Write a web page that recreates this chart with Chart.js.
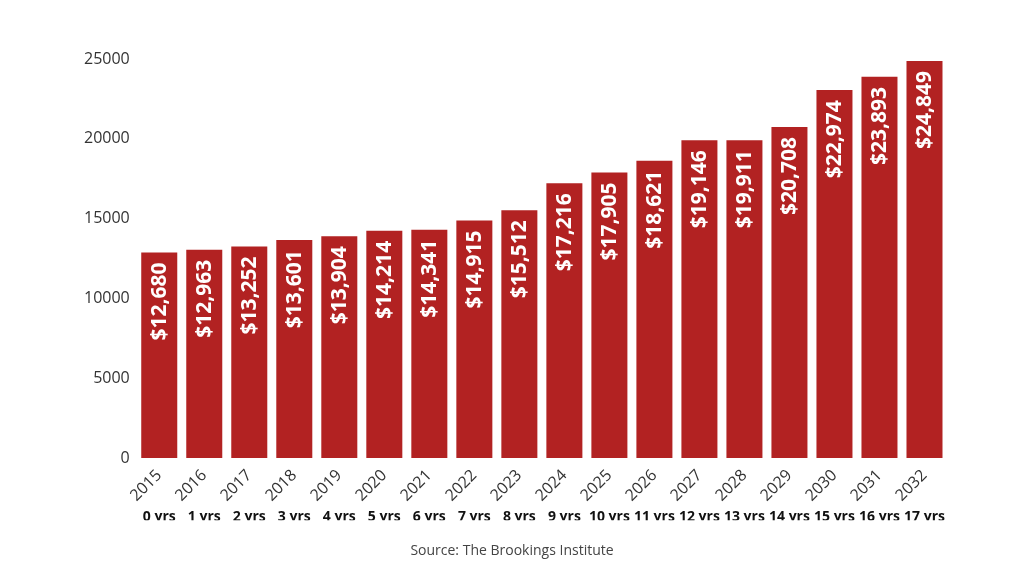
<!DOCTYPE html>
<html>
<head>
<meta charset="utf-8">
<script src="https://cdn.jsdelivr.net/npm/chart.js@4"></script>
<style>
  html, body { margin: 0; padding: 0; background: #fff; }
  #wrap { width: 1024px; height: 576px; }
</style>
</head>
<body>
<div id="wrap"><canvas id="chart"></canvas></div>
<script>
const YEARS = ["2015", "2016", "2017", "2018", "2019", "2020", "2021", "2022", "2023",
  "2024", "2025", "2026", "2027", "2028", "2029", "2030", "2031", "2032"];
const AGES = ["0 yrs", "1 yrs", "2 yrs", "3 yrs", "4 yrs", "5 yrs", "6 yrs", "7 yrs", "8 yrs",
  "9 yrs", "10 yrs", "11 yrs", "12 yrs", "13 yrs", "14 yrs", "15 yrs", "16 yrs", "17 yrs"];
// bar heights
const COSTS = [12880, 13050, 13250, 13650, 13900, 14230, 14300, 14880, 15520,
  17216, 17890, 18621, 19911, 19911, 20740, 23050, 23880, 24870];
// text printed inside the bars
const COST_LABELS = ["$12,680", "$12,963", "$13,252", "$13,601", "$13,904", "$14,214", "$14,341",
  "$14,915", "$15,512", "$17,216", "$17,905", "$18,621", "$19,146", "$19,911", "$20,708",
  "$22,974", "$23,893", "$24,849"];
const Y_TICKS = [0, 5000, 10000, 15000, 20000, 25000];

const FONT = "'Open Sans', 'Noto Sans', sans-serif";

// white vertical labels near the top of each bar
const barLabels = {
  id: "barLabels",
  afterDatasetsDraw(chart) {
    const ctx = chart.ctx;
    const meta = chart.getDatasetMeta(0);
    ctx.save();
    ctx.fillStyle = "#ffffff";
    ctx.font = "bold 21px " + FONT;
    ctx.textAlign = "right";
    ctx.textBaseline = "middle";
    meta.data.forEach((bar, i) => {
      ctx.save();
      ctx.translate(bar.x, bar.y + 10);
      ctx.rotate(-Math.PI / 2);
      ctx.fillText(COST_LABELS[i], 0, 1);
      ctx.restore();
    });
    ctx.restore();
  },
};

// keep the rotated year labels from pushing the plot area inwards
function noSidePadding(axis) {
  axis.paddingLeft = 0;
  axis.paddingRight = 0;
}

new Chart(document.getElementById("chart"), {
  type: "bar",
  data: {
    labels: YEARS,
    datasets: [
      {
        data: COSTS,
        backgroundColor: "#B22222",
        barPercentage: 0.8,
        categoryPercentage: 1.0,
      },
    ],
  },
  options: {
    responsive: true,
    maintainAspectRatio: false,
    animation: false,
    layout: { padding: { left: 77, right: 77, top: 59, bottom: 17 } },
    plugins: {
      legend: { display: false },
      tooltip: { enabled: false },
      title: {
        display: true,
        position: "bottom",
        text: "Source: The Brookings Institute",
        color: "#444",
        font: { family: FONT, size: 14, weight: "normal" },
        padding: { top: 22, bottom: 0 },
      },
    },
    scales: {
      x: {
        grid: { display: false },
        border: { display: false },
        afterFit: noSidePadding,
        ticks: {
          color: "#333",
          font: { family: FONT, size: 16 },
          minRotation: 45,
          maxRotation: 45,
          padding: 0,
        },
      },
      x2: {
        type: "category",
        labels: AGES,
        position: "bottom",
        grid: { display: false },
        border: { display: false },
        afterFit: noSidePadding,
        ticks: {
          color: "#111",
          font: { family: FONT, size: 14, weight: "bold" },
          maxRotation: 0,
          autoSkip: false,
          padding: -5,
        },
      },
      y: {
        min: 0,
        max: 25000,
        afterBuildTicks(axis) {
          axis.ticks = Y_TICKS.map((v) => ({ value: v }));
        },
        grid: { display: false, drawTicks: false },
        border: { display: false },
        ticks: {
          color: "#333",
          font: { family: FONT, size: 16 },
          padding: 7,
          callback: (value) => String(value),
        },
      },
    },
  },
  plugins: [barLabels],
});
</script>
</body>
</html>
